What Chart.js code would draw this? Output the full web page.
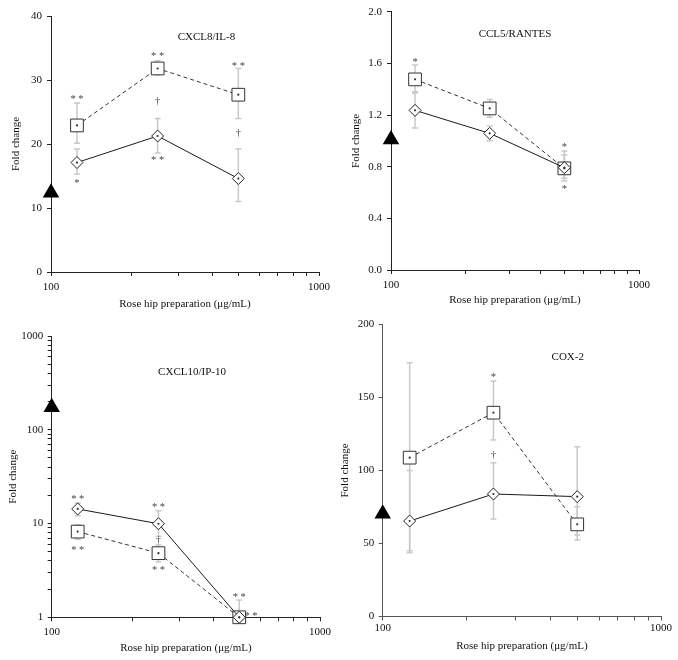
<!doctype html>
<html>
<head>
<title>Rose hip preparation - fold change</title>
<script src="https://cdn.jsdelivr.net/npm/chart.js@4.4.1/dist/chart.umd.min.js"></script>
<style>
    body { margin: 0; background: #fff; }
    #wrap { position: relative; width: 678px; height: 660px; }
    #wrap canvas { position: absolute; left: 0; top: 0; }
</style>
</head>
<body>
<div id="wrap"></div>
<script>
// doses (µg/mL) shared by all panels
var doses = [125, 250, 500];
var xTickLabels = [100, 1000];

// CXCL8/IL-8
var il8Square = [22.9, 31.8, 27.7];
var il8SquareErr = [[20.1, 26.4], [30.8, 33.0], [24.0, 31.8]];
var il8Diamond = [17.1, 21.25, 14.6];
var il8DiamondErr = [[15.3, 19.2], [18.6, 24.0], [11.0, 19.2]];
var il8Control = 12.4;
var il8Marks = [[125, 27.3, '**'], [125, 14.3, '*'], [250, 34.1, '**'], [250, 26.6, '†'],
                [250, 17.8, '**'], [500, 32.5, '**'], [500, 21.7, '†']];
var il8Ticks = [0, 10, 20, 30, 40];

// CCL5/RANTES
var ccl5Square = [1.476, 1.251, 0.787];
var ccl5SquareErr = [[1.38, 1.587], [1.182, 1.321], [0.69, 0.921]];
var ccl5Diamond = [1.236, 1.058, 0.792];
var ccl5DiamondErr = [[1.10, 1.37], [1.001, 1.115], [0.71, 0.89]];
var ccl5Control = 1.01;
var ccl5Marks = [[125, 1.63, '*'], [500, 0.967, '*'], [500, 0.645, '*']];
var ccl5Ticks = [0, 0.4, 0.8, 1.2, 1.6, 2.0];

// CXCL10/IP-10
var ip10Square = [8.2, 4.83, 1.0];
var ip10SquareErr = [[6.8, 9.7], [3.9, 5.9], [1.0, 1.1]];
var ip10Diamond = [14.3, 9.95, 1.0];
var ip10DiamondErr = [[12.1, 16.6], [7.3, 13.7], [1.0, 1.53]];
var ip10Control = 174;
var ip10Marks = [[125, 19.2, '**'], [125, 5.5, '**'], [250, 15.6, '**'], [250, 6.7, '†'],
                 [250, 3.4, '**'], [500, 1.73, '**'], [553, 1.08, '**']];
var ip10Ticks = [1, 10, 100, 1000];

// COX-2
var coxSquare = [108.8, 139.6, 63.1];
var coxSquareErr = [[43.7, 173.8], [120.9, 161.3], [55.8, 75.2]];
var coxDiamond = [65.4, 83.9, 82.1];
var coxDiamondErr = [[45, 100], [66.8, 105.3], [52.4, 116.3]];
var coxControl = 70.3;
var coxMarks = [[250, 165.4, '*'], [250, 110.6, '†']];
var coxTicks = [0, 50, 100, 150, 200];

var FONT = '"Liberation Serif", "Times New Roman", serif';
Chart.defaults.font.family = FONT;
Chart.defaults.font.size = 11;
Chart.defaults.color = '#111';

var panels = [
    { title: 'CXCL8/IL-8', titleAt: [0.58, 0.082], log: false, ticks: il8Ticks, dec: 0,
      sq: il8Square, sqErr: il8SquareErr, di: il8Diamond, diErr: il8DiamondErr,
      ctrl: il8Control, marks: il8Marks,
      box: { L: 51, T: 16, R: 319, B: 272 }, yTitleX: 16, xTickY: 286.7, xTitleY: 304, yPad: 5, axis: '#222' },
    { title: 'CCL5/RANTES', titleAt: [0.5, 0.086], log: false, ticks: ccl5Ticks, dec: 1,
      sq: ccl5Square, sqErr: ccl5SquareErr, di: ccl5Diamond, diErr: ccl5DiamondErr,
      ctrl: ccl5Control, marks: ccl5Marks,
      box: { L: 391, T: 11.7, R: 639, B: 270 }, yTitleX: 356, xTickY: 285, xTitleY: 300, yPad: 5, axis: '#222' },
    { title: 'CXCL10/IP-10', titleAt: [0.523, 0.127], log: true, ticks: ip10Ticks, dec: 0,
      sq: ip10Square, sqErr: ip10SquareErr, di: ip10Diamond, diErr: ip10DiamondErr,
      ctrl: ip10Control, marks: ip10Marks,
      box: { L: 51.7, T: 336, R: 320, B: 617.3 }, yTitleX: 13.3, xTickY: 631.7, xTitleY: 648.3, yPad: 4.4, axis: '#222' },
    { title: 'COX-2', titleAt: [0.665, 0.11], log: false, ticks: coxTicks, dec: 0,
      sq: coxSquare, sqErr: coxSquareErr, di: coxDiamond, diErr: coxDiamondErr,
      ctrl: coxControl, marks: coxMarks,
      box: { L: 382.7, T: 324.5, R: 661, B: 616.5 }, yTitleX: 345, xTickY: 628.3, xTitleY: 646, yPad: 4.4, axis: '#555' }
];

// 1,2,...,9 x 10^e between lo and hi
function decadeTicks(lo, hi) {
    var out = [];
    for (var e = Math.round(Math.log10(lo)); Math.pow(10, e) < hi; e++) {
        for (var k = 1; k < 10; k++) out.push({ value: k * Math.pow(10, e) });
    }
    out.push({ value: hi });
    return out;
}

// gray error bars behind the markers
var errorBars = {
    id: 'errorBars',
    beforeDatasetsDraw: function (chart) {
        var ctx = chart.ctx, xs = chart.scales.x, ys = chart.scales.y;
        ctx.save();
        ctx.strokeStyle = '#c9c9c9';
        ctx.lineWidth = 1.5;
        chart.data.datasets.forEach(function (ds) {
            if (!ds.err) return;
            ds.err.forEach(function (e, i) {
                if (e[0] === e[1]) return;
                var x = xs.getPixelForValue(doses[i]);
                var y0 = ys.getPixelForValue(e[0]);
                var y1 = ys.getPixelForValue(e[1]);
                ctx.beginPath();
                ctx.moveTo(x, y0); ctx.lineTo(x, y1);
                ctx.moveTo(x - 3, y0); ctx.lineTo(x + 3, y0);
                ctx.moveTo(x - 3, y1); ctx.lineTo(x + 3, y1);
                ctx.stroke();
            });
        });
        ctx.restore();
    }
};

// significance marks, small centre dots and panel title
var marksPlugin = {
    id: 'marks',
    afterDatasetsDraw: function (chart, args, opts) {
        var ctx = chart.ctx, xs = chart.scales.x, ys = chart.scales.y, a = chart.chartArea;
        ctx.save();
        ctx.fillStyle = '#333';
        chart.data.datasets.forEach(function (ds) {
            if (!ds.err) return;
            ds.data.forEach(function (pt) {
                ctx.beginPath();
                ctx.arc(xs.getPixelForValue(pt.x), ys.getPixelForValue(pt.y), 1.1, 0, Math.PI * 2);
                ctx.fill();
            });
        });
        ctx.textAlign = 'center';
        ctx.fillStyle = '#111';
        ctx.font = '11px ' + FONT;
        ctx.textBaseline = 'middle';
        ctx.fillText(opts.title, a.left + opts.titleAt[0] * (a.right - a.left),
                     a.top + opts.titleAt[1] * (a.bottom - a.top));
        ctx.fillStyle = '#444';
        ctx.textBaseline = 'alphabetic';
        opts.marks.forEach(function (m) {
            var x = xs.getPixelForValue(m[0]);
            var y = ys.getPixelForValue(m[1]);
            var fs = 10.5;
            ctx.font = fs + 'px ' + FONT;
            var shift = m[2].charAt(0) === '*' ? 0.48 * fs : 0.26 * fs;
            ctx.fillText(m[2].split('').join(' '), x, y + shift);
        });
        ctx.restore();
    }
};

function buildPanel(p) {
    var canvas = document.createElement('canvas');
    canvas.width = 678;
    canvas.height = 660;
    document.getElementById('wrap').appendChild(canvas);

    var half = 6.6;
    var padLeft = p.yTitleX - half;
    var yWidth = p.box.L - padLeft;
    var padBottom = 660 - half - p.xTitleY;
    var xHeight = 660 - padBottom - p.box.B;
    var xPad = p.xTickY - p.box.B - 4 - half;

    function pts(vals) {
        return doses.map(function (d, i) { return { x: d, y: vals[i] }; });
    }

    var yMin = p.ticks[0], yMax = p.ticks[p.ticks.length - 1];
    var yScale = {
        type: p.log ? 'logarithmic' : 'linear',
        min: yMin,
        max: yMax,
        afterFit: function (s) { s.width = yWidth; },
        border: { display: true, color: p.axis, width: 1 },
        grid: { drawOnChartArea: false, drawTicks: true, tickLength: 4, color: p.axis },
        title: { display: true, text: 'Fold change', padding: 0, color: '#111' },
        ticks: {
            padding: p.yPad, color: '#111', autoSkip: false,
            callback: function (v) {
                if (p.log) return p.ticks.indexOf(v) >= 0 ? String(v) : '';
                return Number(v).toFixed(p.dec);
            }
        }
    };
    if (p.log) {
        yScale.afterBuildTicks = function (s) { s.ticks = decadeTicks(yMin, yMax); };
    } else {
        yScale.afterBuildTicks = function (s) {
            s.ticks = p.ticks.map(function (v) { return { value: v }; });
        };
    }

    return new Chart(canvas.getContext('2d'), {
        type: 'line',
        data: {
            datasets: [
                {
                    data: pts(p.di), err: p.diErr,
                    borderColor: '#1a1a1a', borderWidth: 1,
                    pointStyle: 'rectRot', pointRadius: 6,
                    pointBackgroundColor: '#fff', pointBorderColor: '#222', pointBorderWidth: 1,
                    clip: false
                },
                {
                    data: pts(p.sq), err: p.sqErr,
                    borderColor: '#333', borderWidth: 1, borderDash: [4, 3],
                    pointStyle: 'rect', pointRadius: 9,
                    pointBackgroundColor: '#fff', pointBorderColor: '#333', pointBorderWidth: 1,
                    clip: false
                },
                {
                    data: [{ x: 100, y: p.ctrl }],
                    showLine: false,
                    pointStyle: 'triangle', pointRadius: 9.5,
                    pointBackgroundColor: '#000', pointBorderColor: '#000', pointBorderWidth: 0,
                    clip: false
                }
            ]
        },
        options: {
            responsive: false,
            animation: false,
            events: [],
            layout: { padding: { left: padLeft, top: p.box.T, right: 678 - p.box.R, bottom: padBottom } },
            plugins: {
                legend: { display: false },
                tooltip: { enabled: false },
                marks: { title: p.title, titleAt: p.titleAt, marks: p.marks }
            },
            scales: {
                x: {
                    type: 'logarithmic',
                    min: 100,
                    max: 1000,
                    afterFit: function (s) { s.height = xHeight; },
                    afterBuildTicks: function (s) { s.ticks = decadeTicks(100, 1000); },
                    border: { display: true, color: p.axis, width: 1 },
                    grid: { drawOnChartArea: false, drawTicks: true, tickLength: 4, color: p.axis },
                    title: { display: true, text: 'Rose hip preparation (\u03bcg/mL)', padding: 0, color: '#111' },
                    ticks: {
                        padding: xPad, color: '#111', autoSkip: false, maxRotation: 0,
                        callback: function (v) { return xTickLabels.indexOf(v) >= 0 ? String(v) : ''; }
                    }
                },
                y: yScale
            }
        },
        plugins: [errorBars, marksPlugin]
    });
}

panels.forEach(buildPanel);
</script>
</body>
</html>
